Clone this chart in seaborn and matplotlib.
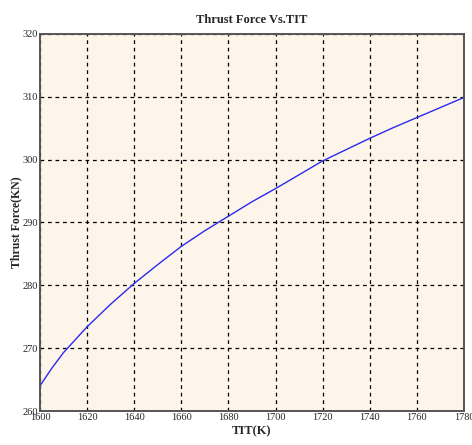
import matplotlib
matplotlib.use("Agg")
import matplotlib.pyplot as plt
import seaborn as sns
import pandas as pd

# Turbine inlet temperature (K) and resulting thrust force (kN)
tit = [1600, 1605, 1610, 1620, 1630, 1640, 1650, 1660, 1670, 1680, 1690,
       1700, 1710, 1720, 1730, 1740, 1750, 1760, 1770, 1780]
thrust = [264.0, 266.8, 269.3, 273.4, 277.0, 280.3, 283.3, 286.2, 288.7, 291.0, 293.3,
          295.4, 297.6, 299.8, 301.6, 303.4, 305.1, 306.7, 308.3, 309.9]

x_ticks = [1600, 1620, 1640, 1660, 1680, 1700, 1720, 1740, 1760, 1780]
y_ticks = [260, 270, 280, 290, 300, 310, 320]

df = pd.DataFrame({"TIT": tit, "Thrust": thrust})

sns.set_style("white")
plt.rcParams["font.family"] = ["Liberation Serif", "DejaVu Serif"]

fig = plt.figure(figsize=(4.72, 4.45), dpi=100)
ax = fig.add_axes([0.0847, 0.0764, 0.8983, 0.8472])
ax.set_facecolor("#fdf5ea")

sns.lineplot(data=df, x="TIT", y="Thrust", ax=ax, color="#2a2af0", linewidth=1.0)

ax.set_xlim(1600, 1780)
ax.set_ylim(260, 320)
ax.set_xticks(x_ticks)
ax.set_yticks(y_ticks)
ax.set_xticklabels([str(v) for v in x_ticks], fontsize=7.5)
ax.set_yticklabels([str(v) for v in y_ticks], fontsize=7.5)
ax.tick_params(direction="in", length=3, width=0.8, color="#333333", pad=1.5)

ax.grid(True, color="black", linestyle=(0, (3, 3)), linewidth=0.9)
for s in ax.spines.values():
    s.set_color("#555555")
    s.set_linewidth(1.4)

ax.set_title("Thrust Force Vs.TIT", fontsize=9, fontweight="bold", pad=8)
ax.set_xlabel("TIT(K)", fontsize=9, fontweight="bold", labelpad=2)
ax.set_ylabel("Thrust Force(KN)", fontsize=8.5, fontweight="bold", labelpad=0)

fig.savefig("out.png", dpi=100)
